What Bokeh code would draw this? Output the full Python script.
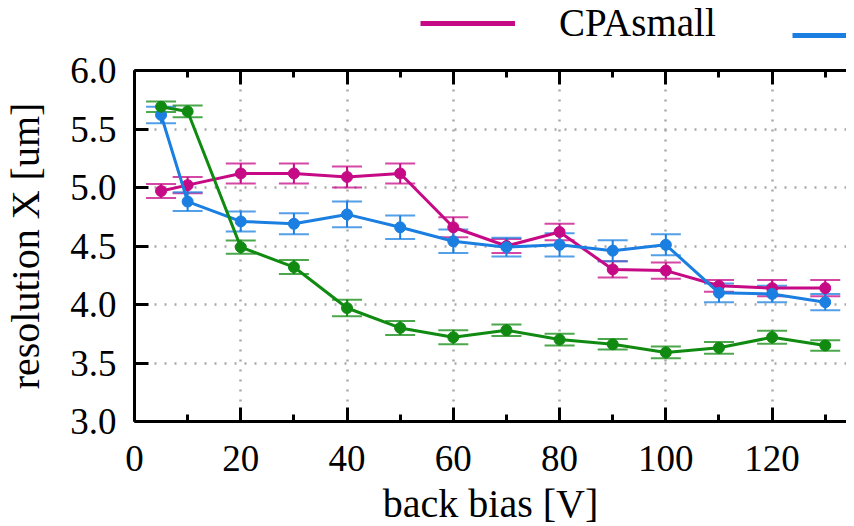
from bokeh.plotting import figure
from bokeh.layouts import column
from bokeh.models import (ColumnDataSource, Whisker, TeeHead, LinearAxis, FixedTicker,
                          PrintfTickFormatter, CustomJSTickFormatter, Legend, LegendItem, Range1d)
from bokeh.embed import file_html
from bokeh.resources import INLINE

bias = [5, 10, 20, 30, 40, 50, 60, 70, 80, 90, 100, 110, 120, 130]

cpa_small = [4.97, 5.02, 5.12, 5.12, 5.09, 5.12, 4.66, 4.50, 4.62, 4.30, 4.29, 4.16, 4.14, 4.14]
cpa_small_err = [0.06, 0.07, 0.085, 0.085, 0.09, 0.085, 0.085, 0.06, 0.07, 0.07, 0.07, 0.05, 0.07, 0.07]

blue = [5.62, 4.88, 4.71, 4.69, 4.77, 4.66, 4.54, 4.49, 4.51, 4.46, 4.51, 4.10, 4.09, 4.02]
blue_err = [0.07, 0.08, 0.085, 0.09, 0.11, 0.10, 0.10, 0.08, 0.10, 0.09, 0.09, 0.08, 0.07, 0.07]

green = [5.69, 5.65, 4.49, 4.32, 3.97, 3.80, 3.72, 3.78, 3.70, 3.66, 3.59, 3.63, 3.72, 3.65]
green_err = [0.045, 0.05, 0.057, 0.06, 0.07, 0.06, 0.06, 0.05, 0.05, 0.045, 0.05, 0.05, 0.055, 0.045]

x_ticks = [0, 20, 40, 60, 80, 100, 120]
x_minor = [10, 30, 50, 70, 90, 110, 130]
y_ticks = [3.0, 3.5, 4.0, 4.5, 5.0, 5.5, 6.0]

FONT = "Liberation Serif"
MAG = "#c60a86"
BLU = "#1a7fe0"
GRN = "#108a10"

p = figure(width=846, height=478, output_backend="svg", toolbar_location=None,
           x_range=Range1d(0, 134), y_range=Range1d(3.0, 6.0),
           min_border_left=129, min_border_right=0, min_border_top=20, min_border_bottom=0)
p.background_fill_color = "white"
p.border_fill_color = "white"
p.outline_line_color = None

def style_axis(ax):
    ax.axis_line_width = 3
    ax.axis_line_color = "black"
    ax.major_tick_line_width = 3
    ax.minor_tick_line_width = 3
    ax.major_tick_in = 14
    ax.major_tick_out = 0
    ax.minor_tick_in = 7
    ax.minor_tick_out = 0
    ax.major_label_text_font = FONT
    ax.major_label_text_font_size = "37px"
    ax.major_label_text_color = "black"
    ax.axis_label_text_font = FONT
    ax.axis_label_text_font_size = "40px"
    ax.axis_label_text_font_style = "normal"
    ax.axis_label_text_color = "black"

xa = p.xaxis[0]
xa.ticker = FixedTicker(ticks=x_ticks, minor_ticks=x_minor)
xa.formatter = PrintfTickFormatter(format="%d")
xa.axis_label = "back bias [V]"
style_axis(xa)
xa.major_label_standoff = 24
xa.axis_label_standoff = 7

ya = p.yaxis[0]
ya.ticker = FixedTicker(ticks=y_ticks, minor_ticks=[])
ya.formatter = PrintfTickFormatter(format="%.1f")
ya.axis_label = "resolution X [um]"
style_axis(ya)
ya.major_label_standoff = 18
ya.axis_label_standoff = 19

blank = CustomJSTickFormatter(code="return ''")
top = LinearAxis(ticker=FixedTicker(ticks=x_ticks, minor_ticks=x_minor),
                 formatter=blank, major_label_standoff=0)
style_axis(top)
top.major_label_text_font_size = "1px"
p.add_layout(top, "above")

p.xgrid.ticker = FixedTicker(ticks=x_ticks[1:])
p.ygrid.ticker = FixedTicker(ticks=y_ticks[1:-1])
for g in (p.xgrid[0], p.ygrid[0]):
    g.grid_line_color = "#a8a8a8"
    g.grid_line_width = 2.5
    g.grid_line_dash = "2 8"

for vals, errs, col in ((cpa_small, cpa_small_err, MAG), (blue, blue_err, BLU), (green, green_err, GRN)):
    src = ColumnDataSource(dict(x=bias, y=vals,
                                lo=[v - e for v, e in zip(vals, errs)],
                                hi=[v + e for v, e in zip(vals, errs)]))
    w = Whisker(source=src, base="x", lower="lo", upper="hi", line_color=col, line_width=2,
                upper_head=TeeHead(size=30, line_color=col, line_width=2, line_alpha=0.75),
                lower_head=TeeHead(size=30, line_color=col, line_width=2, line_alpha=0.75))
    p.add_layout(w)
    p.line("x", "y", source=src, line_color=col, line_width=3)
    p.scatter("x", "y", source=src, size=11, fill_color=col, line_color=col)

# legend strip above the plot (its lines carry the real data, out of this strip's view)
lg = figure(width=846, height=50, output_backend="svg", toolbar_location=None,
            x_range=Range1d(-1, 0), y_range=Range1d(-1, 0),
            min_border_left=0, min_border_right=0, min_border_top=0, min_border_bottom=0)
lg.axis.visible = False
lg.grid.visible = False
lg.outline_line_color = None
r_mag = lg.line(bias, cpa_small, line_color=MAG, line_width=5)
r_blu = lg.line(bias, blue, line_color=BLU, line_width=5)

common = dict(orientation="horizontal", label_text_font=FONT, label_text_font_size="39px",
              label_text_color="black", glyph_height=20, padding=0, margin=0,
              border_line_color=None, background_fill_alpha=0)
leg1 = Legend(items=[LegendItem(label="CPAsmall", renderers=[r_mag])],
              location=(286, 5), glyph_width=95, label_standoff=44, **common)
leg2 = Legend(items=[LegendItem(label=" ", renderers=[r_blu])],
              location=(658, 5), glyph_width=70, label_standoff=0, **common)
lg.add_layout(leg1, "center")
lg.add_layout(leg2, "center")

layout = column(lg, p, spacing=0)
open("out.html", "w").write(file_html(layout, INLINE))
